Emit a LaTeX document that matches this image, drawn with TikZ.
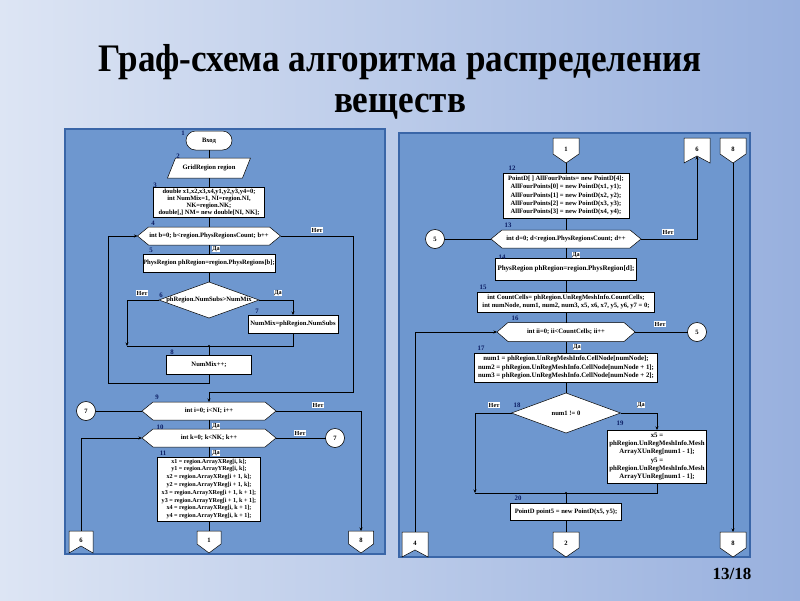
\documentclass[tikz,border=0pt]{standalone}
\usepackage{fontspec}
\setmainfont{Liberation Serif}
\usetikzlibrary{arrows.meta}
\pgfdeclarelayer{back}\pgfdeclarelayer{mid}\pgfsetlayers{back,mid,main}
\definecolor{bgL}{HTML}{DDE5F4}
\definecolor{bgR}{HTML}{98B0DE}
\definecolor{panfill}{HTML}{6E97CF}
\definecolor{panline}{HTML}{3A66A8}
\definecolor{numcol}{HTML}{0B1D63}
\tikzset{
 txt/.style={shape=rectangle, inner sep=0pt, outer sep=0pt, align=center, font=\fontsize{6.6}{7.6}\selectfont\bfseries},
 rbox/.style={txt, draw=black, fill=white, line width=0.5pt},
 shp/.style={draw=black, fill=white, line width=0.5pt},
 flow/.style={draw=black, line width=0.6pt},
 arr/.style={flow, -{Stealth[length=3.5pt,width=3pt]}},
 yesno/.style={fill=white, inner sep=0.8pt, font=\fontsize{6.2}{6.2}\selectfont\bfseries},
 num/.style={text=numcol, font=\fontsize{6.8}{6.8}\selectfont\bfseries, inner sep=0pt},
 circ/.style={shape=circle, draw=black, fill=white, line width=0.6pt, minimum size=19pt, inner sep=0pt, outer sep=0pt, font=\fontsize{6.6}{6.6}\selectfont\bfseries},
 jdot/.style={circle, fill=black, inner sep=0pt, minimum size=2.2pt},
 ttl/.style={anchor=base, inner sep=0pt, xscale=0.9, font=\fontsize{39}{39}\selectfont\bfseries},
}
\newcommand{\HexShape}[1]{\begin{pgfonlayer}{mid}\path[shp] (#1.west) -- ([xshift=11pt]#1.north west) -- ([xshift=-11pt]#1.north east) -- (#1.east) -- ([xshift=-11pt]#1.south east) -- ([xshift=11pt]#1.south west) -- cycle;\end{pgfonlayer}}
\newcommand{\DiaShape}[1]{\begin{pgfonlayer}{mid}\path[shp] (#1.north) -- (#1.east) -- (#1.south) -- (#1.west) -- cycle;\end{pgfonlayer}}
\newcommand{\ParaShape}[1]{\begin{pgfonlayer}{mid}\path[shp] (#1.south west) -- ([xshift=8pt]#1.north west) -- (#1.north east) -- ([xshift=-8pt]#1.south east) -- cycle;\end{pgfonlayer}}
\newcommand{\PentShape}[1]{\begin{pgfonlayer}{mid}\path[shp] (#1.north west) -- (#1.north east) -- ([yshift=9pt]#1.south east) -- (#1.south) -- ([yshift=9pt]#1.south west) -- cycle;\end{pgfonlayer}}
\newcommand{\NotchShape}[1]{\begin{pgfonlayer}{mid}\path[shp] (#1.north west) -- (#1.north east) -- (#1.south east) -- ([yshift=7pt]#1.south) -- (#1.south west) -- cycle;\end{pgfonlayer}}
\begin{document}
\begin{tikzpicture}[x=1pt,y=-1pt]
\useasboundingbox (0,0) rectangle (800,600);
\begin{pgfonlayer}{back}
\shade[left color=bgL, right color=bgR] (0,0) rectangle (800,600);
\draw[panline, line width=1.2pt, fill=panfill] (65,129) rectangle (385,554);
\draw[panline, line width=1.2pt, fill=panfill] (399,133) rectangle (750,557);
\end{pgfonlayer}
% title
\node[ttl] (title1) at (400,71) {Граф-схема алгоритма распределения};
\node[ttl] (title2) at (400,112) {веществ};
\node[anchor=base, inner sep=0pt, font=\fontsize{17}{17}\selectfont\bfseries] (page) at (732,579) {13/18};
% ---------- left panel ----------
\node[txt, draw=black, fill=white, line width=0.5pt, rounded corners=9.5pt, minimum width=46pt, minimum height=19pt] (n1) at (209,140.5) {Вход};
\node[txt, minimum width=83pt, minimum height=20pt] (n2) at (209,168) {GridRegion region}; \ParaShape{n2}
\node[rbox, minimum width=111pt, minimum height=30pt, font=\fontsize{6.5}{7}\selectfont\bfseries] (n3) at (209,202) {double x1,x2,x3,x4,y1,y2,y3,y4=0;\\int NumMix=1, NI=region.NI,\\NK=region.NK;\\double[,] NM= new double[NI, NK];};
\node[txt, minimum width=143pt, minimum height=18pt] (n4) at (209,236) {int b=0; b<region.PhysRegionsCount; b++}; \HexShape{n4}
\node[rbox, minimum width=127pt, minimum height=18pt] (n5) at (209,263) {PhysRegion phRegion=region.PhysRegions[b];};
\node[txt, minimum width=100pt, minimum height=36pt] (n6) at (209,300) {phRegion.NumSubs>NumMix}; \DiaShape{n6}
\node[rbox, minimum width=90pt, minimum height=18pt] (n7) at (293,324) {NumMix=phRegion.NumSubs};
\node[rbox, minimum width=85pt, minimum height=19pt] (n8) at (209,364.5) {NumMix++;};
\node[txt, minimum width=134pt, minimum height=18pt] (n9) at (209,411) {int i=0; i<NI; i++}; \HexShape{n9}
\node[txt, minimum width=134pt, minimum height=18pt] (n10) at (209,438) {int k=0; k<NK; k++}; \HexShape{n10}
\node[rbox, minimum width=103pt, minimum height=64pt, font=\fontsize{6.1}{7.8}\selectfont\bfseries] (n11) at (209,489) {x1 = region.ArrayXReg[i, k];\\y1 = region.ArrayYReg[i, k];\\x2 = region.ArrayXReg[i + 1, k];\\y2 = region.ArrayYReg[i + 1, k];\\x3 = region.ArrayXReg[i + 1, k + 1];\\y3 = region.ArrayYReg[i + 1, k + 1];\\x4 = region.ArrayXReg[i, k + 1];\\y4 = region.ArrayYReg[i, k + 1];};
\node[circ] (c7a) at (86,411) {7};
\node[circ] (c7b) at (335,438) {7};
\node[txt, minimum width=24pt, minimum height=22pt] (o6) at (81,542) {\raisebox{3pt}{6}}; \NotchShape{o6}
\node[txt, minimum width=24pt, minimum height=22pt] (o1) at (209,542) {\raisebox{3pt}{1}}; \PentShape{o1}
\node[txt, minimum width=25pt, minimum height=22pt] (o8) at (361,542) {\raisebox{3pt}{8}}; \PentShape{o8}
\coordinate (jL) at (127,346);
\coordinate (b8) at (209,383);
\coordinate (b8L) at (108,383);
\coordinate (a4R) at (353,236);
\coordinate (a9T) at (209,392);
\draw[flow] (n1.south) -- (n2.north);
\draw[flow] (n2.south) -- (n3.north);
\draw[flow] (n3.south) -- (n4.north);
\draw[flow] (n4.south) -- (n5.north);
\draw[flow] (n5.south) -- (n6.north);
\draw[arr] (n6.west) -| (jL);
\draw[arr] (n6.east) -| (n7.north);
\draw[flow] (n7.south) |- (jL);
\node[jdot] (jM) at (209,346) {};
\draw[flow] (jM) -- (n8.north);
\draw[arr] (n8.south) -- (b8) -- (b8L) |- (n4.west);
\draw[arr] (n4.east) -- (a4R) |- (a9T) -- (n9.north);
\draw[flow] (c7a) -- (n9.west);
\draw[flow] (n9.south) -- (n10.north);
\draw[arr] (n9.east) -| (o8.north);
\draw[flow] (n10.east) -- (c7b);
\draw[arr] (o6.north) |- (n10.west);
\draw[flow] (n10.south) -- (n11.north);
\draw[flow] (n11.south) -- (o1.north);
% labels left
\node[num] (l1) at (183,133) {1};
\node[num] (l2) at (178,156) {2};
\node[num] (l3) at (155,185) {3};
\node[num] (l4) at (153,223) {4};
\node[num] (l5) at (151,250) {5};
\node[num] (l6) at (161,295) {6};
\node[num] (l7) at (257,311) {7};
\node[num] (l8) at (172,352) {8};
\node[num] (l9) at (157,397) {9};
\node[num] (l10) at (160,427) {10};
\node[num] (l11) at (163,453) {11};
\node[yesno] (y4n) at (317,230) {Нет};
\node[yesno] (y4d) at (216,249) {Да};
\node[yesno] (y6n) at (142,293) {Нет};
\node[yesno] (y6d) at (278,293) {Да};
\node[yesno] (y9n) at (318,405) {Нет};
\node[yesno] (y9d) at (216,426) {Да};
\node[yesno] (y10n) at (300,433) {Нет};
\node[yesno] (y10d) at (216,453) {Да};
% ---------- right panel ----------
\node[txt, minimum width=26pt, minimum height=25pt] (r1) at (566,150.5) {\raisebox{3pt}{1}}; \PentShape{r1}
\node[txt, minimum width=26pt, minimum height=25pt] (r6) at (697,150.5) {\raisebox{3pt}{6}}; \NotchShape{r6}
\node[txt, minimum width=26pt, minimum height=25pt] (r8) at (733,150.5) {\raisebox{3pt}{8}}; \PentShape{r8}
\node[rbox, minimum width=126pt, minimum height=45pt, font=\fontsize{6.6}{8.2}\selectfont\bfseries] (r12) at (566,195.5) {PointD[ ] AllFourPoints= new PointD[4];\\AllFourPoints[0] = new PointD(x1, y1);\\AllFourPoints[1] = new PointD(x2, y2);\\AllFourPoints[2] = new PointD(x3, y3);\\AllFourPoints[3] = new PointD(x4, y4);};
\node[txt, minimum width=150pt, minimum height=18pt] (r13) at (566,239) {int d=0; d<region.PhysRegionsCount; d++}; \HexShape{r13}
\node[circ] (c5a) at (435,239) {5};
\node[rbox, minimum width=141pt, minimum height=22pt, font=\fontsize{7}{8}\selectfont\bfseries] (r14) at (566,269) {PhysRegion phRegion=region.PhysRegion[d];};
\node[rbox, minimum width=177pt, minimum height=20pt] (r15) at (566,302) {int CountCells= phRegion.UnRegMeshInfo.CountCells;\\int numNode, num1, num2, num3, x5, x6, x7, y5, y6, y7 = 0;};
\node[txt, minimum width=138pt, minimum height=19pt] (r16) at (566,332) {int ii=0; ii<CountCells; ii++}; \HexShape{r16}
\node[circ] (c5b) at (697,332) {5};
\node[rbox, minimum width=183pt, minimum height=29pt, font=\fontsize{6.8}{8.3}\selectfont\bfseries] (r17) at (566,367.5) {num1 = phRegion.UnRegMeshInfo.CellNode[numNode];\\num2 = phRegion.UnRegMeshInfo.CellNode[numNode + 1];\\num3 = phRegion.UnRegMeshInfo.CellNode[numNode + 2];};
\node[txt, minimum width=109pt, minimum height=40pt] (r18) at (566,413) {num1 != 0}; \DiaShape{r18}
\node[rbox, minimum width=99pt, minimum height=53pt, font=\fontsize{6.8}{8.3}\selectfont\bfseries] (r19) at (657,456.5) {x5 =\\phRegion.UnRegMeshInfo.Mesh\\ArrayXUnReg[num1 - 1];\\y5 =\\phRegion.UnRegMeshInfo.Mesh\\ArrayYUnReg[num1 - 1];};
\node[rbox, minimum width=111pt, minimum height=17pt] (r20) at (566,511.5) {PointD point5 = new PointD(x5, y5);};
\node[txt, minimum width=26pt, minimum height=25pt] (r2) at (566,544.5) {\raisebox{3pt}{2}}; \PentShape{r2}
\node[txt, minimum width=26pt, minimum height=25pt] (r4) at (415,544.5) {\raisebox{3pt}{4}}; \NotchShape{r4}
\node[txt, minimum width=26pt, minimum height=25pt] (r8b) at (733,544.5) {\raisebox{3pt}{8}}; \PentShape{r8b}
\coordinate (r6n) at ([yshift=7pt]r6.south);
\coordinate (jRL) at (475,493);
\draw[flow] (r1.south) -- (r12.north);
\draw[flow] (r12.south) -- (r13.north);
\draw[flow] (c5a) -- (r13.west);
\draw[arr] (r13.east) -| (r6n);
\draw[flow] (r13.south) -- (r14.north);
\draw[flow] (r14.south) -- (r15.north);
\draw[flow] (r15.south) -- (r16.north);
\draw[flow] (r16.east) -- (c5b);
\draw[arr] (r4.north) |- (r16.west);
\draw[flow] (r16.south) -- (r17.north);
\draw[flow] (r17.south) -- (r18.north);
\draw[arr] (r18.west) -| (jRL);
\draw[arr] (r18.east) -| (r19.north);
\draw[flow] (r19.south) |- (jRL);
\node[jdot] (jRM) at (566,493) {};
\draw[flow] (jRM) -- (r20.north);
\draw[flow] (r20.south) -- (r2.north);
\draw[arr] (r8.south) -- (r8b.north);
% labels right
\node[num] (l12) at (512,168) {12};
\node[num] (l13) at (508,225) {13};
\node[num] (l14) at (502,257) {14};
\node[num] (l15) at (483,287) {15};
\node[num] (l16) at (515,318) {16};
\node[num] (l17) at (481,348) {17};
\node[num] (l18) at (517,405) {18};
\node[num] (l19) at (620,423) {19};
\node[num] (l20) at (518,498) {20};
\node[yesno] (y13n) at (668,232) {Нет};
\node[yesno] (y13d) at (576,255) {Да};
\node[yesno] (y16n) at (660,324) {Нет};
\node[yesno] (y16d) at (577,347) {Да};
\node[yesno] (y18n) at (494,405) {Нет};
\node[yesno] (y18d) at (641,405) {Да};
\end{tikzpicture}
\end{document}
